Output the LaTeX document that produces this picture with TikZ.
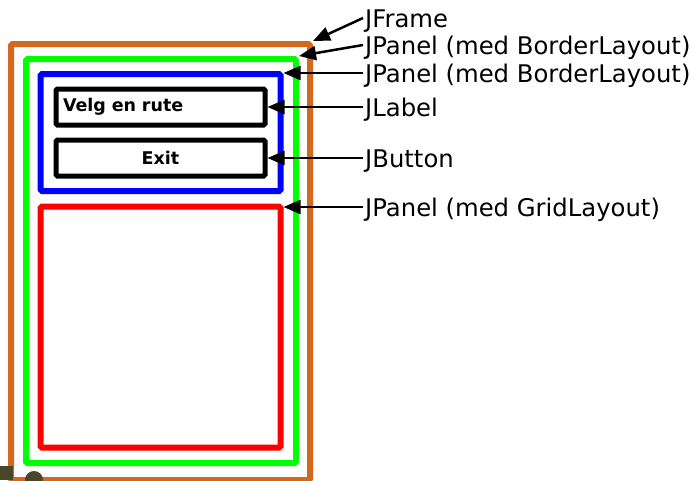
\documentclass[tikz,border=0pt]{standalone}
\usepackage{fontspec}
\setmainfont{DejaVu Sans}
\usepackage{xcolor}
\usepackage{tikz}
\usetikzlibrary{positioning, arrows.meta}
\definecolor{frameOrange}{HTML}{D2691E}
\definecolor{panelGreen}{HTML}{00FF00}
\definecolor{panelBlue}{HTML}{0000FF}
\definecolor{panelRed}{HTML}{FF0000}
\definecolor{stubOlive}{HTML}{4A4628}
\tikzset{
  guibox/.style={draw, line width=6pt, rounded corners=1.5pt, inner sep=0pt},
  widget/.style={draw=black, line width=5pt, rounded corners=1.5pt, inner sep=0pt,
    minimum width=209pt, minimum height=36pt, font=\fontsize{17.5}{20}\selectfont\bfseries},
  callout/.style={anchor=west, inner xsep=2pt, inner ysep=0pt, text height=18pt,
    text depth=0pt, font=\fontsize{24.3}{28}\selectfont},
  pointer/.style={black, line width=2.5pt, -{Triangle[length=17pt, width=14pt]}}
}

\begin{document}
\begin{tikzpicture}[x=1pt, y=-1pt]
    \useasboundingbox (0,0) rectangle (695,480);
    % Nested containers
    \node[guibox, draw=frameOrange, minimum width=299pt, minimum height=436pt]
      (frame) at (160.5, 262) {};
    \node[guibox, draw=panelGreen, minimum width=270pt, minimum height=404pt]
      (outer) at (161, 261) {};
    \node[guibox, draw=panelBlue, minimum width=240pt, minimum height=117pt]
      (north) at (160.5, 132.5) {};
    \node[guibox, draw=panelRed, minimum width=240pt, minimum height=241pt]
      (grid) at (160.5, 327) {};
    % Widgets in the north panel
    \node[widget, text width=195pt, align=left] (lbl) at (160.5, 107) {Velg en rute};
    \node[widget] (btn) at (160.5, 158) {Exit};
    % Stubs at lower left
    \fill[stubOlive] (0,466) rectangle (12.5,480);
    \fill[stubOlive] (34,480) circle (9);
    % Callout texts
    \node[callout] (tFrame)  at (363, 18)  {JFrame};
    \node[callout] (tOuter)  at (363, 45)  {JPanel (med BorderLayout)};
    \node[callout] (tNorth)  at (363, 73)  {JPanel (med BorderLayout)};
    \node[callout] (tLabel)  at (363, 107) {JLabel};
    \node[callout] (tButton) at (363, 158) {JButton};
    \node[callout] (tGrid)   at (363, 207) {JPanel (med GridLayout)};
    % Pointers
    \draw[pointer] (tFrame.west)  -- (frame.north east);
    \draw[pointer] (tOuter.west)  -- (outer.north east);
    \draw[pointer] (tNorth.west)  -- (north.east |- tNorth.west);
    \draw[pointer] (tLabel.west)  -- (lbl.east);
    \draw[pointer] (tButton.west) -- (btn.east);
    \draw[pointer] (tGrid.west)   -- (grid.east |- tGrid.west);
  \end{tikzpicture}
\end{document}
